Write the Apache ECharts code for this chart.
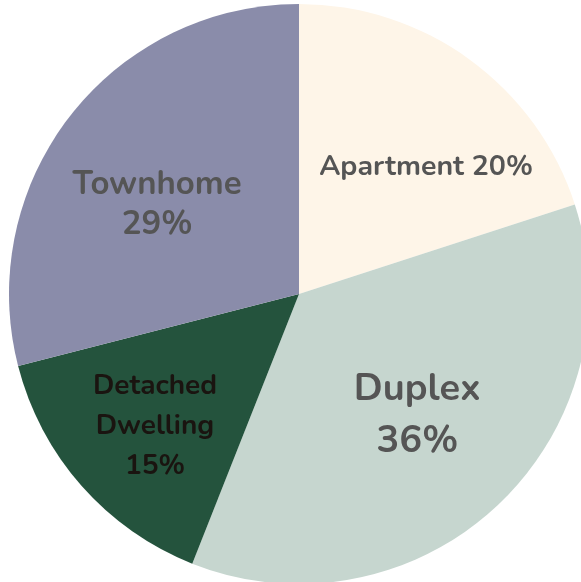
<!DOCTYPE html>
<html>
<head>
<meta charset="utf-8">
<script src="https://cdn.jsdelivr.net/npm/echarts@6/dist/echarts.min.js"></script>
<style>
  html, body { margin: 0; padding: 0; background: #fff; }
  #chart { width: 581px; height: 582px; }
</style>
</head>
<body>
<div id="chart"></div>
<script>
// data
const categories = ["Apartment", "Duplex", "Detached\nDwelling", "Townhome"];
const shares = [20, 36, 15, 29];
const colors = ["#fef5e8", "#c6d6cf", "#24533d", "#8a8caa"];

// label look per slice
const labelStyles = [
  { fontSize: 28.5, lineHeight: 34, color: "#555555", offset: [40, -6], fmt: (n, v) => n + " " + v + "%" },
  { fontSize: 38, lineHeight: 52, color: "#555555", offset: [17, 15], fmt: (n, v) => n + "\n" + v + "%" },
  { fontSize: 28, lineHeight: 40, color: "#1a1410", offset: [-33, 35], fmt: (n, v) => n + "\n" + v + "%" },
  { fontSize: 33, lineHeight: 40, color: "#555555", offset: [-25, 3], fmt: (n, v) => n + "\n" + v + "%" },
];

const chart = echarts.init(document.getElementById("chart"));

const pieData = categories.map((name, i) => ({
  name: name,
  value: shares[i],
  itemStyle: { color: colors[i] },
  label: {
    show: true,
    position: "inside",
    formatter: labelStyles[i].fmt(name, shares[i]),
    fontSize: labelStyles[i].fontSize,
    lineHeight: labelStyles[i].lineHeight,
    color: labelStyles[i].color,
    offset: labelStyles[i].offset,
    fontWeight: "bold",
    fontFamily: "Nunito, 'Noto Sans', sans-serif",
    align: "center",
  },
}));

chart.setOption({
  animation: false,
  series: [
    {
      type: "pie",
      center: [299, 294],
      radius: [0, 290],
      startAngle: 90,
      clockwise: true,
      silent: true,
      itemStyle: { borderWidth: 0 },
      labelLine: { show: false },
      data: pieData,
    },
  ],
});
</script>
</body>
</html>
